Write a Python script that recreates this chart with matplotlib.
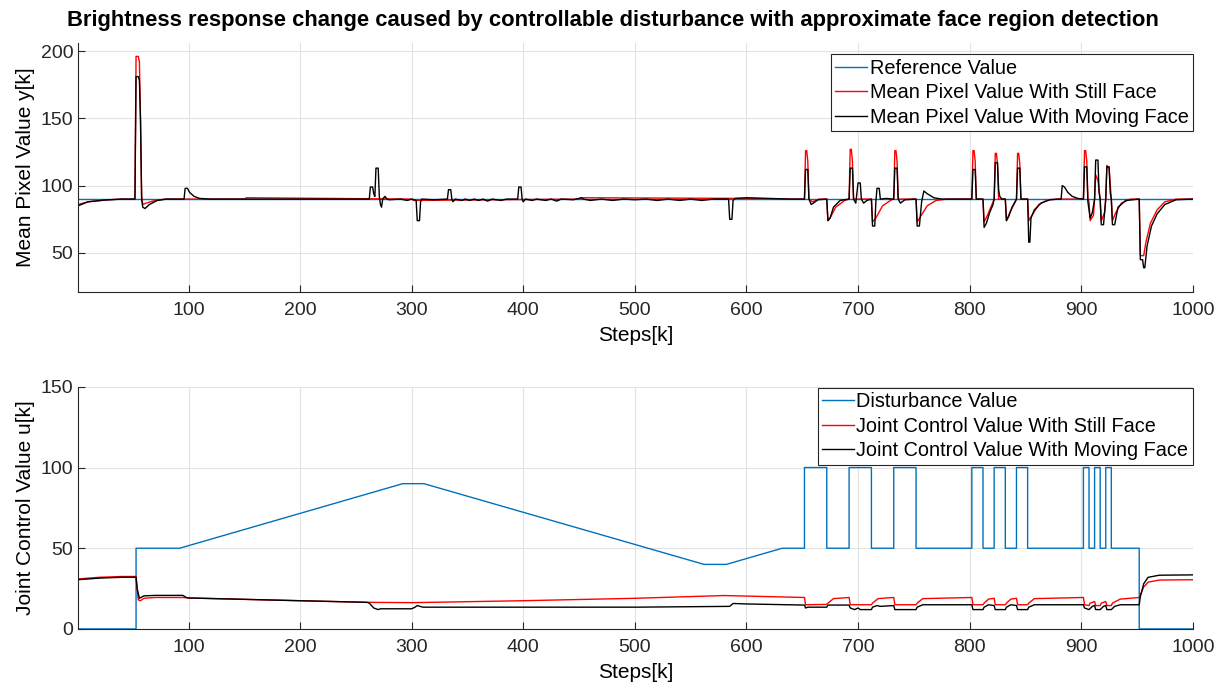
import matplotlib.pyplot as plt

plt.rcParams['font.family'] = ['Liberation Sans', 'DejaVu Sans']

# ---- top panel: mean pixel value y[k] (breakpoints) ----
ref_steps = [1, 1000]
ref_values = [90, 90]

still_y_steps = [1, 10, 25, 40, 52, 53, 55, 56, 57, 58, 59, 62, 70, 80, 150, 152, 300, 302, 450, 452, 600, 640,
                 652, 653, 654, 655, 656, 659, 665, 672, 673, 675, 680, 688, 692, 693, 694, 695, 696, 712, 713, 716,
                 722, 730, 732, 733, 734, 735, 736, 752, 753, 756, 762, 770, 780, 802, 803, 804, 805, 806, 812, 813,
                 816, 821, 822, 823, 824, 825, 826, 832, 833, 836, 841, 842, 843, 844, 845, 846, 852, 853, 856, 862,
                 870, 880, 902, 903, 904, 905, 906, 907, 908, 911, 912, 913, 915, 917, 918, 921, 922, 923, 925, 927,
                 928, 931, 936, 944, 952, 953, 956, 958, 962, 968, 975, 985, 1000]
still_y_values = [86, 88, 89.3, 90, 90, 196, 196, 192, 148, 92, 86, 87, 89, 90, 90, 91, 90, 89, 90, 91, 90.5, 90,
                  90, 126, 126, 118, 90, 88, 90, 90, 74, 76, 84, 89, 90, 127, 127, 118, 90, 90, 73, 76,
                  85, 89.5, 90, 126, 126, 118, 90, 90, 73, 77, 85, 89, 90, 90, 126, 126, 118, 90, 90, 73,
                  78, 88, 90, 124, 124, 116, 90, 90, 74, 80, 88, 90, 124, 124, 116, 90, 90, 74, 78, 86,
                  89.5, 90, 90, 126, 126, 118, 90, 88, 74, 78, 90, 108, 104, 90, 74, 80, 90, 115, 113, 90,
                  74, 80, 87, 90, 90, 48, 48, 58, 72, 82, 88, 90, 90]

moving_y_steps = [1, 10, 25, 40, 52, 53, 55, 56, 57, 58, 59, 61, 65, 72, 80, 96, 97, 99, 101, 105, 110, 120,
                  262, 263, 265, 266, 267, 268, 270, 271, 272, 273, 274, 276, 278, 280, 290, 296, 300, 304, 305,
                  307, 308, 309, 320, 332, 333, 335, 336, 337, 339, 345, 348, 352, 356, 360, 364, 368, 372, 380,
                  385, 395, 396, 398, 399, 400, 402, 408, 412, 420, 425, 430, 434, 445, 452, 454, 460, 470, 480,
                  490, 500, 510, 520, 530, 540, 550, 560, 570, 584, 585, 587, 588, 590, 600, 620, 640, 652, 653,
                  655, 656, 658, 660, 664, 672, 673, 675, 678, 684, 692, 693, 695, 696, 698, 700, 702, 703, 705,
                  708, 712, 713, 715, 716, 717, 719, 720, 725, 732, 733, 735, 736, 738, 742, 752, 753, 755, 757,
                  759, 762, 768, 775, 802, 803, 805, 806, 812, 813, 815, 818, 821, 822, 823, 825, 826, 827, 829,
                  832, 833, 835, 838, 842, 843, 845, 846, 852, 853, 854, 855, 858, 864, 872, 880, 882, 883, 885,
                  888, 892, 897, 902, 903, 905, 906, 908, 910, 912, 913, 915, 916, 917, 918, 920, 922, 923, 925,
                  926, 927, 928, 930, 933, 940, 952, 953, 955, 956, 957, 959, 963, 968, 975, 985, 1000]
moving_y_values = [85, 88, 89.3, 90, 90, 181, 181, 178, 148, 90, 84, 83, 86, 89, 90, 90, 98, 98, 95, 92, 90.5, 90,
                   90, 99, 99, 94, 92, 113, 113, 92, 86, 84, 90, 92, 90, 89.5, 90, 89, 90, 89, 74,
                   74, 88, 90, 89.5, 90, 97, 97, 90, 88, 90, 89, 90, 89, 90, 89, 90, 88.5, 90, 89,
                   90, 90, 99, 99, 90, 88, 90, 89, 90, 89, 90, 88.5, 90, 89.5, 91, 90, 89, 90, 89,
                   90, 89.5, 90, 89, 90, 89, 90, 89, 90, 90, 75, 75, 89, 90.5, 91, 90.5, 90, 90, 112,
                   112, 90, 86, 87, 89.5, 90, 74, 76, 84, 89, 90, 113, 113, 90, 87, 102, 102, 90, 87,
                   89, 90, 70, 70, 88, 98, 98, 90, 90.5, 90, 113, 113, 90, 87, 89.5, 90, 70, 70, 88,
                   96, 94, 91, 90, 90, 112, 112, 90, 90, 69, 72, 80, 86, 90, 117, 117, 97, 92, 90,
                   90, 74, 77, 84, 90, 113, 113, 90, 90, 58, 58, 76, 82, 87, 89.5, 90, 90, 100, 99,
                   95, 92, 90.5, 90, 114, 114, 88, 76, 80, 90, 119, 119, 95, 90, 71, 71, 90, 114, 114,
                   95, 90, 71, 71, 84, 89, 90, 45, 45, 39, 39, 55, 70, 79, 86, 89.5, 90]

# ---- bottom panel: disturbance and joint control value u[k] ----
dist_steps = [1, 53, 53, 92, 292, 311, 562, 582, 632, 652, 652, 672, 672, 692, 692, 712, 712, 732, 732, 752,
              752, 802, 802, 812, 812, 822, 822, 832, 832, 842, 842, 852, 852, 902, 902, 907, 907, 912, 912,
              917, 917, 922, 922, 927, 927, 952, 952, 1000]
dist_values = [0, 0, 50, 50, 90, 90, 40, 40, 50, 50, 100, 100, 50, 50, 100, 100, 50, 50, 100, 100,
               50, 50, 100, 100, 50, 50, 100, 100, 50, 50, 100, 100, 50, 50, 100, 100, 50, 50, 100,
               100, 50, 50, 100, 100, 50, 50, 0, 0]

still_u_steps = [1, 20, 40, 53, 54, 55, 57, 60, 70, 95, 100, 200, 260, 300, 400, 500, 580, 652, 653, 672, 673,
                 678, 692, 693, 712, 713, 718, 732, 733, 752, 753, 758, 802, 803, 812, 813, 817, 822, 823, 832,
                 833, 837, 842, 843, 852, 853, 858, 902, 903, 907, 908, 912, 913, 917, 918, 922, 923, 927, 928,
                 935, 952, 953, 956, 960, 970, 1000]
still_u_values = [31, 32, 32.5, 32.5, 25, 18, 17.5, 19, 19.5, 19.5, 19.2, 17.5, 16.5, 16.3, 17.5, 19, 20.7, 19.5, 15,
                  15.2, 16, 18.8, 19.5, 15, 15, 16, 18.8, 19.5, 15, 15, 16, 18.8, 19.5, 15, 15, 16, 18.5, 19, 15,
                  15, 16, 18.5, 19, 15, 15, 16, 18.8, 19.5, 15, 14.5, 16, 17, 14.5, 14.5, 16, 17, 14.5, 14.5, 16,
                  18.5, 19.5, 21, 26, 29, 30.3, 30.5]

moving_u_steps = [1, 20, 40, 53, 54, 56, 60, 70, 95, 98, 100, 200, 260, 262, 266, 270, 272, 300, 303, 305, 310,
                  400, 500, 585, 588, 600, 652, 653, 655, 672, 673, 692, 693, 697, 700, 702, 712, 713, 717, 720,
                  732, 733, 752, 753, 758, 802, 803, 812, 813, 817, 822, 823, 832, 833, 837, 842, 843, 852, 853,
                  858, 902, 903, 907, 910, 912, 913, 917, 920, 922, 923, 927, 930, 935, 952, 953, 956, 960, 970,
                  1000]
moving_u_values = [30.5, 31.5, 32, 32, 25, 19, 20.5, 20.8, 20.8, 19.5, 19.2, 17.5, 16.5, 16, 13, 12, 12.5, 12.5,
                   13.5, 14.5, 13.5, 13.5, 13.5, 14, 15.8, 15.5, 14.8, 13, 13.5, 13.5, 14.8, 14.8, 13, 12, 13,
                   12, 12, 13.5, 14.5, 14, 14.5, 12, 12, 13.5, 15, 15, 12, 12, 13.5, 15, 14.5, 12, 12, 13.5, 15,
                   14.5, 12, 12, 13.5, 15, 15, 13, 12, 14, 14.5, 12, 12, 14, 14.5, 12, 12, 14, 15, 15, 20, 28,
                   32, 33.3, 33.5]

blue = '#0072BD'
tick_fs = 14
label_fs = 15

fig = plt.figure(figsize=(12.25, 6.88), dpi=100)
ax1 = fig.add_axes([0.0637, 0.5756, 0.910, 0.362])
ax2 = fig.add_axes([0.0637, 0.0858, 0.910, 0.352])

ax1.plot(ref_steps, ref_values, color=blue, lw=1.0, label='Reference Value')
ax1.plot(still_y_steps, still_y_values, color='red', lw=1.0, label='Mean Pixel Value With Still Face')
ax1.plot(moving_y_steps, moving_y_values, color='black', lw=1.0, label='Mean Pixel Value With Moving Face')
ax1.set_ylim(21, 206)
ax1.set_yticks([50, 100, 150, 200])
ax1.set_ylabel('Mean Pixel Value y[k]', fontsize=label_fs)

ax2.plot(dist_steps, dist_values, color=blue, lw=1.0, label='Disturbance Value')
ax2.plot(still_u_steps, still_u_values, color='red', lw=1.0, label='Joint Control Value With Still Face')
ax2.plot(moving_u_steps, moving_u_values, color='black', lw=1.0, label='Joint Control Value With Moving Face')
ax2.set_ylim(0, 150)
ax2.set_yticks([0, 50, 100, 150])
ax2.set_ylabel('Joint Control Value u[k]', fontsize=label_fs)

for ax, anchor_y in ((ax1, 0.955), (ax2, 0.996)):
    ax.set_xlim(1, 1000)
    ax.set_xticks(range(100, 1001, 100))
    ax.set_xlabel('Steps[k]', fontsize=label_fs, labelpad=5)
    ax.grid(True, color='#e3e3e3', lw=0.8)
    ax.set_axisbelow(True)
    for side in ('top', 'right'):
        ax.spines[side].set_visible(False)
    for side in ('left', 'bottom'):
        ax.spines[side].set_color('#262626')
    ax.tick_params(direction='in', length=5, labelsize=tick_fs, colors='#262626', labelcolor='#262626')
    ax.tick_params(axis='x', pad=7)
    leg = ax.legend(loc='upper right', bbox_to_anchor=(1.0, anchor_y), fontsize=14.3, frameon=True,
                    fancybox=False, edgecolor='#262626', framealpha=1, borderaxespad=0,
                    handlelength=1.6, handletextpad=0.12, labelspacing=0.28, borderpad=0.22)
    leg.get_frame().set_linewidth(0.8)

fig.suptitle('Brightness response change caused by controllable disturbance with approximate face region detection',
             fontsize=15.8, fontweight='bold', y=0.985)

fig.savefig('out.png', dpi=100)
